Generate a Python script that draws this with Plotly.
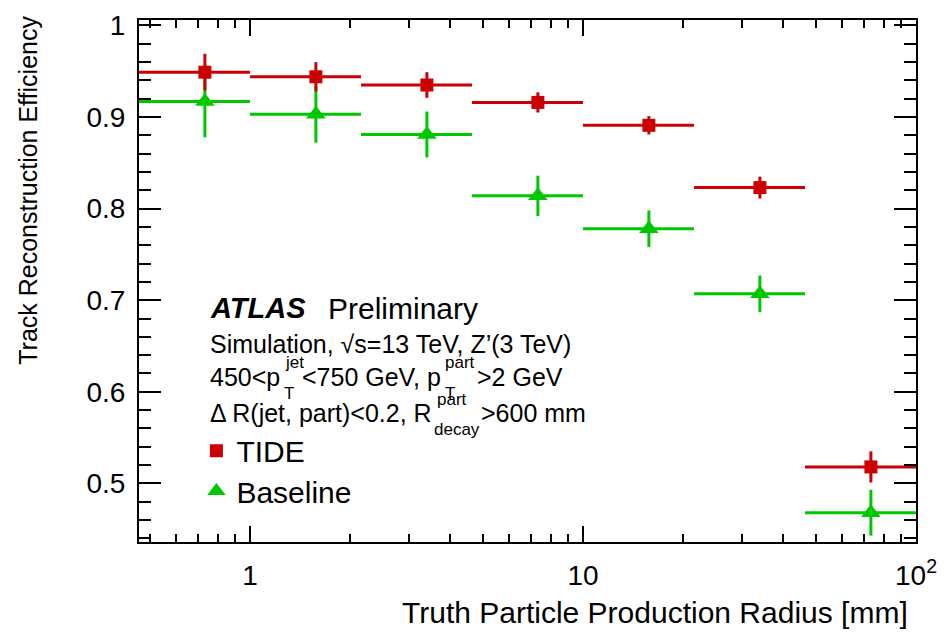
import numpy as np
import plotly.graph_objects as go

# Bin edges of the truth production radius [mm] (three bins per decade)
radius_edges = [0.4642, 1.0, 2.1544, 4.6416, 10.0, 21.544, 46.416, 100.0]

# Track reconstruction efficiency per radius bin
tide_eff = [0.949, 0.944, 0.935, 0.916, 0.891, 0.823, 0.518]
tide_err = [0.020, 0.016, 0.014, 0.011, 0.010, 0.012, 0.017]
baseline_eff = [0.917, 0.903, 0.881, 0.814, 0.778, 0.707, 0.468]
baseline_err = [0.039, 0.031, 0.025, 0.022, 0.020, 0.020, 0.025]

y_ticks = [0.5, 0.6, 0.7, 0.8, 0.9, 1.0]
y_tick_text = ["0.5", "0.6", "0.7", "0.8", "0.9", "1"]
x_ticks = [1, 10, 100]
x_tick_text = ["1", "10", "10<sup>2</sup>"]
x_minor = [0.5, 0.6, 0.7, 0.8, 0.9, 2, 3, 4, 5, 6, 7, 8, 9,
           20, 30, 40, 50, 60, 70, 80, 90]

RED = "#cc0000"
GREEN = "#00c800"
FONT = "Liberation Sans, Arial, Helvetica, sans-serif"

W, H = 947, 633
L, R, T, B = 139, 23, 10, 91

edges = np.array(radius_edges)
lo, hi = edges[:-1], edges[1:]
centers = (lo + hi) / 2.0


def px(x):
    return (x - L) / (W - L - R)


def py(y):
    return (H - B - y) / (H - T - B)


def trace(name, eff, err, color, symbol, size, legend):
    return go.Scatter(
        x=centers, y=eff, mode="markers", name=name, legend=legend,
        showlegend=True,
        marker=dict(symbol=symbol, size=size, color=color, line=dict(width=0)),
        error_x=dict(type="data", symmetric=False, array=hi - centers,
                     arrayminus=centers - lo, width=0, thickness=3, color=color),
        error_y=dict(type="data", array=err, width=0, thickness=3, color=color),
    )


fig = go.Figure()
fig.add_trace(trace("Baseline", baseline_eff, baseline_err, GREEN,
                    "triangle-up", 17, "legend2"))
fig.add_trace(trace("TIDE", tide_eff, tide_err, RED, "square", 13, "legend"))

axis_common = dict(
    showline=True, linewidth=2, linecolor="black", mirror="allticks",
    ticks="inside", tickwidth=1.5, tickcolor="black", showgrid=False,
    zeroline=False, tickfont=dict(family=FONT, size=28, color="black"),
)

fig.update_xaxes(
    type="log", range=[np.log10(edges[0]), np.log10(edges[-1])],
    tickmode="array", tickvals=x_ticks, ticktext=x_tick_text, ticklen=16,
    ticklabelstandoff=7,
    minor=dict(tickmode="array", tickvals=x_minor, ticks="inside", ticklen=8,
               tickwidth=1.5, tickcolor="black"),
    **axis_common,
)
fig.update_yaxes(
    range=[0.436, 1.006], tickmode="array", tickvals=y_ticks,
    ticktext=y_tick_text, ticklen=22, ticklabelstandoff=6,
    minor=dict(dtick=0.02, tick0=0, ticks="inside", ticklen=12,
               tickwidth=1.5, tickcolor="black"),
    **axis_common,
)

ann = []


def text(s, x, y, size, xanchor="left", yanchor="middle", angle=0):
    ann.append(dict(text=s, x=px(x), y=py(y), xref="paper", yref="paper",
                    xanchor=xanchor, yanchor=yanchor, showarrow=False,
                    textangle=angle,
                    font=dict(family=FONT, size=size, color="black")))


# Axis titles
text("Truth Particle Production Radius [mm]", 918, 614, 30, xanchor="right")
text("Track Reconstruction Efficiency", 26, 4, 25, xanchor="center",
     yanchor="top", angle=-90)

# Experiment label and selection
text("<b><i>ATLAS</i></b>", 209, 304, 29)
text("Preliminary", 328, 304, 30)
text("Simulation, √s=13 TeV, Z’(3 TeV)", 209, 340, 25)

text("450<p", 209, 374, 25)
text("jet", 284, 359, 17)
text("T", 283, 391, 17)
text("<750 GeV, p", 302, 374, 25)
text("part", 446, 359, 17)
text("T", 446, 391, 17)
text(">2 GeV", 478, 374, 25)

text("Δ R(jet, part)<0.2, R", 209, 411, 25)
text("part", 438, 397, 17)
text("decay", 435, 427, 17)
text(">600 mm", 482, 411, 25)

legend_style = dict(font=dict(family=FONT, size=30, color="black"),
                    bgcolor="rgba(0,0,0,0)", xanchor="left",
                    yanchor="middle", itemwidth=30, borderwidth=0)

fig.update_layout(
    width=W, height=H,
    margin=dict(l=L, r=R, t=T, b=B),
    paper_bgcolor="white", plot_bgcolor="white",
    showlegend=True,
    annotations=ann,
    legend=dict(x=px(197), y=py(449), **legend_style),
    legend2=dict(x=px(197), y=py(490), **legend_style),
)

fig.write_html("out.html")
